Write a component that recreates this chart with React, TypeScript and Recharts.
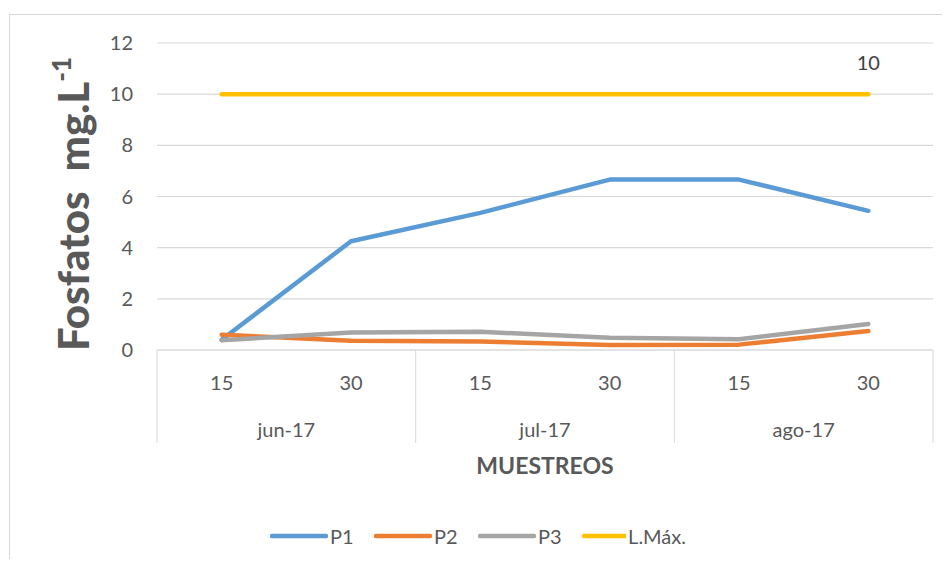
import React from 'react';
import {
  CartesianGrid,
  Legend,
  LabelList,
  Line,
  LineChart,
  XAxis,
  YAxis
} from 'recharts';

const days = ['15', '30', '15', '30', '15', '30'];
const months = ['jun-17', 'jun-17', 'jul-17', 'jul-17', 'ago-17', 'ago-17'];
const p1 = [0.4, 4.25, 5.36, 6.66, 6.66, 5.44];
const p2 = [0.6, 0.36, 0.33, 0.2, 0.21, 0.74];
const p3 = [0.38, 0.68, 0.71, 0.48, 0.42, 1.02];
const lMax = [10, 10, 10, 10, 10, 10];
const yTicks = [0, 2, 4, 6, 8, 10, 12];

const series = [
  { key: 'P1', color: '#5B9BD5', values: p1 },
  { key: 'P2', color: '#ED7D31', values: p2 },
  { key: 'P3', color: '#A5A5A5', values: p3 },
  { key: 'L.Máx.', color: '#FFC000', values: lMax }
];

const data = days.map((d, i) => {
  const row: Record<string, any> = { day: d, month: months[i], id: i };
  series.forEach((s) => {
    row[s.key] = s.values[i];
  });
  return row;
});

const FONT = 'Lato, "Liberation Sans", sans-serif';
const TEXT = '#595959';
const GRID = '#d9d9d9';

// two-level category axis: day on top, month below, boxed by separators
const CategoryTick = (props: any) => {
  const { x, y, payload, index } = props;
  const half = payload && payload.offset ? payload.offset : 64.7;
  const boxH = 93;
  const i = index ?? payload.index;
  return (
    <g>
      <text
        x={x}
        y={y + 32}
        textAnchor="middle"
        dominantBaseline="central"
        fontSize={20}
        fill={TEXT}
        fontFamily={FONT}
      >
        {days[i]}
      </text>
      {i % 2 === 0 && (
        <>
          <line x1={x - half} x2={x - half} y1={y} y2={y + boxH} stroke={GRID} />
          <text
            x={x + half}
            y={y + 79}
            textAnchor="middle"
            dominantBaseline="central"
            fontSize={20}
            fill={TEXT}
            fontFamily={FONT}
          >
            {months[i]}
          </text>
        </>
      )}
      {i === days.length - 1 && (
        <line x1={x + half} x2={x + half} y1={y} y2={y + boxH} stroke={GRID} />
      )}
    </g>
  );
};

const YTitle = () => (
  <text
    transform="translate(89,204) rotate(-90)"
    textAnchor="middle"
    fontSize={42}
    fontWeight={900}
    fill={TEXT}
    fontFamily={FONT}
  >
    Fosfatos{'\u00a0\u00a0'}mg.L
    <tspan fontSize={26} dy={-18}>-1</tspan>
  </text>
);

const LimitLabel = (props: any) => {
  const { x, y, index, value } = props;
  if (index !== lMax.length - 1) return null;
  return (
    <text
      x={x}
      y={y - 32}
      textAnchor="middle"
      dominantBaseline="central"
      fontSize={20}
      fill="#404040"
      fontFamily={FONT}
    >
      {value}
    </text>
  );
};

const LegendBox = () => (
  <div style={{ display: 'flex', alignItems: 'center', fontFamily: FONT, fontSize: 20, color: TEXT }}>
    {series.map((s) => (
      <div key={s.key} style={{ display: 'flex', alignItems: 'center', width: 104 }}>
        <svg width={58} height={10}>
          <line x1={2} x2={56} y1={5} y2={5} stroke={s.color} strokeWidth={4.5} strokeLinecap="round" />
        </svg>
        <span style={{ marginLeft: 2 }}>{s.key}</span>
      </div>
    ))}
  </div>
);

export default function App() {
  return (
    <div style={{ margin: -8, width: 950, height: 567, position: 'relative', overflow: 'hidden', background: '#fff' }}>
      <div style={{ position: 'absolute', left: 9, top: 14, width: 941, height: 0, borderTop: `1px solid ${GRID}` }} />
      <div style={{ position: 'absolute', left: 9, top: 14, width: 0, height: 553, borderLeft: `1px solid ${GRID}` }} />
      <div style={{ position: 'absolute', left: 0, top: 0 }}>
        <LineChart
          width={950}
          height={567}
          data={data}
          margin={{ top: 43, right: 17, bottom: 124, left: 0 }}
        >
          <CartesianGrid vertical={false} stroke={GRID} strokeWidth={1.2} />
          <XAxis
            dataKey="id"
            scale="band"
            interval={0}
            tickLine={false}
            tickSize={0}
            tickMargin={0}
            height={93}
            axisLine={{ stroke: GRID, strokeWidth: 1.2 }}
            tick={<CategoryTick />}
          />
          <YAxis
            width={157}
            domain={[0, 12]}
            ticks={yTicks}
            axisLine={false}
            tickLine={false}
            tickSize={0}
            tickMargin={24}
            tick={{ fontSize: 20, fill: TEXT, fontFamily: FONT }}
            label={{ content: <YTitle /> }}
          />
          <Legend
            layout="vertical"
            align="center"
            verticalAlign="middle"
            wrapperStyle={{ left: 270, top: 524, width: 500 }}
            content={<LegendBox />}
          />
          {series.map((s) => (
            <Line
              key={s.key}
              dataKey={s.key}
              stroke={s.color}
              strokeWidth={4.5}
              strokeLinecap="round"
              strokeLinejoin="round"
              dot={false}
              activeDot={false}
              isAnimationActive={false}
            >
              {s.key === 'L.Máx.' && <LabelList dataKey={s.key} content={<LimitLabel />} />}
            </Line>
          ))}
          <text
            x={545}
            y={465}
            textAnchor="middle"
            dominantBaseline="central"
            fontSize={23}
            fontWeight="bold"
            fill={TEXT}
            fontFamily={FONT}
          >
            MUESTREOS
          </text>
        </LineChart>
      </div>
    </div>
  );
}
